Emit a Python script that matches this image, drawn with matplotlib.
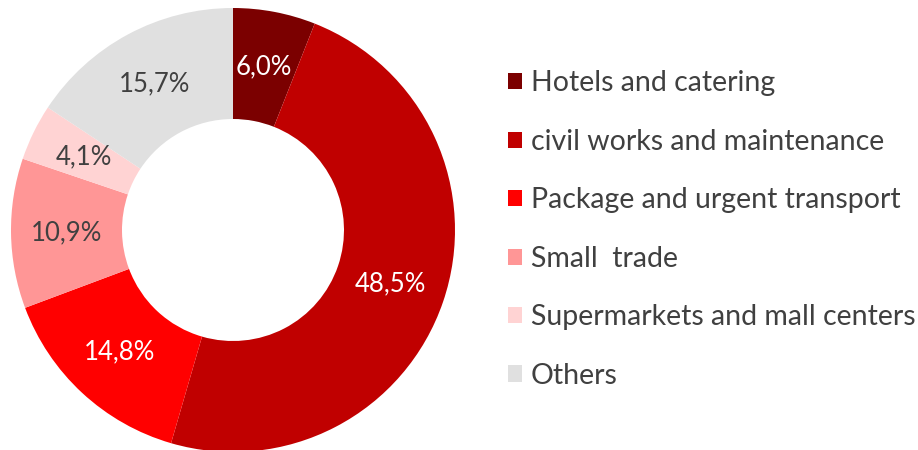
import matplotlib
matplotlib.use("Agg")
import matplotlib.pyplot as plt
from matplotlib.patches import Patch

categories = ["Hotels and catering", "civil works and maintenance",
              "Package and urgent transport", "Small  trade",
              "Supermarkets and mall centers", "Others"]
values = [6.0, 48.5, 14.8, 10.9, 4.1, 15.7]
colors = ["#7B0000", "#C00000", "#FF0000", "#FF9696", "#FFD3D3", "#E0E0E0"]
label_colors = ["white", "white", "white", "#404040", "#404040", "#404040"]

plt.rcParams['font.family'] = ['Lato', 'DejaVu Sans']

fig = plt.figure(figsize=(9.18, 4.5), dpi=100)
ax = fig.add_axes([11/918, -2/450, 444/918, 444/450])
wedges, texts, autotexts = ax.pie(
    values, colors=colors, startangle=90, counterclock=False,
    radius=1.0, wedgeprops=dict(width=0.5, edgecolor="none"),
    autopct=lambda p: f"{p:.1f}".replace(".", ","), pctdistance=0.75,
    textprops=dict(fontsize=18.5))
for t, v, c in zip(autotexts, values, label_colors):
    t.set_text(f"{v:.1f}".replace(".", ",") + "%")
    t.set_color(c)
ax.set_xlim(-1, 1)
ax.set_ylim(-1, 1)
ax.set_aspect("equal")

handles = [Patch(facecolor=c, edgecolor="none") for c in colors]
leg = fig.legend(handles, categories, loc="center left",
                 bbox_to_anchor=(494/918, 0.49), frameon=False,
                 fontsize=20.5, handlelength=0.5, handleheight=0.5,
                 handletextpad=0.3, labelspacing=1.14, borderpad=0)
for t in leg.get_texts():
    t.set_color("#404040")

fig.savefig("out.png", dpi=100)
